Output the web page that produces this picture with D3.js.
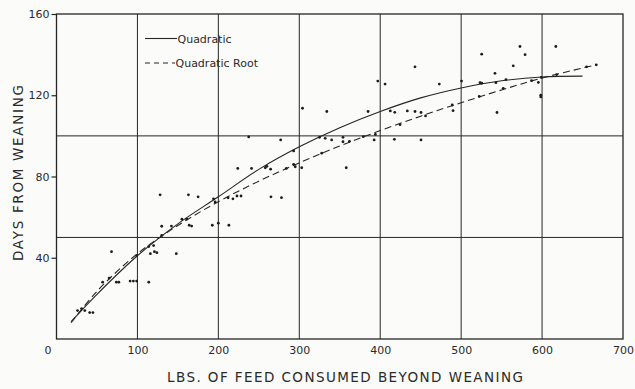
<!DOCTYPE html>
<html>
<head>
<meta charset="utf-8">
<script src="https://cdn.jsdelivr.net/npm/d3@7"></script>
<style>
  html, body { margin: 0; padding: 0; background: #fbfbfa; }
  svg { display: block; }
  text { font-family: "DejaVu Sans", sans-serif; fill: #2a2a2a; }
</style>
</head>
<body>
<svg id="chart" width="635" height="389"></svg>
<script>
// Observed animals: feed consumed (lbs) vs. days from weaning
const feedLbs = [26, 31, 35, 41, 45, 57, 65, 68, 74, 77, 91, 95, 99, 114, 99, 116, 121, 124, 148, 114,
  120, 130, 130, 142, 155, 161, 164, 167, 128, 163, 175, 192.5, 200, 213, 194, 196, 212, 218, 223, 228,
  265, 278, 224, 241, 258, 260, 264.6, 284, 293, 295, 303, 237.5, 277, 293, 304, 325, 332, 340, 354, 354,
  362, 379, 392.5, 394, 417.5, 450.4, 327.7, 358, 334, 385, 397, 406, 412.5, 418, 424.5, 433.5, 443, 443,
  450.4, 456, 473, 489, 490, 500.5, 522.4, 523.3, 525.4, 525.4, 541.8, 543, 544.3, 552, 555.4, 564.4,
  572.7, 579, 587, 595.4, 598.4, 598.4, 599, 617, 618, 655, 667];
const daysFromWeaning = [14, 15, 14, 13, 13, 28, 30, 43, 28, 28, 28.5, 28.5, 28.5, 28, 41, 42, 43, 42.5, 42, 45.5,
  46, 51, 55.5, 55.6, 59, 59, 56, 55.6, 71, 71, 70, 56, 57, 56, 69, 67.5, 69.5, 69, 70.4, 70.4,
  70, 69.6, 84, 84, 84.3, 85, 83.6, 84, 86, 84.8, 84.3, 99.5, 98, 92.6, 113.6, 99.3, 98.8, 98, 99.3, 97.1,
  97.3, 99.6, 98, 100.7, 98.3, 98, 91.5, 84.3, 112, 112, 127, 125.5, 112.3, 111.6, 105.5, 112.3, 134, 112,
  111.5, 109.8, 125.5, 115.2, 112.4, 127, 119.4, 126.2, 125.9, 140.2, 130.8, 126.2, 111.5, 123.4, 127.7, 134.5,
  144, 140, 127.2, 126.3, 120, 119.2, 128.8, 144, 130.2, 134, 135];

// Fitted curves, read along their traced path
const quadFeed = [18, 50, 100, 150, 200, 250, 300, 350, 400, 450, 500, 550, 600, 650];
const quadDays = [8.5, 22, 41, 56.7, 70, 83.5, 94.6, 104, 112, 118.7, 123.6, 127.1, 129, 129.4];
const rootFeed = [18, 50, 100, 150, 200, 250, 300, 350, 400, 450, 500, 550, 600, 667];
const rootDays = [8, 23.5, 42, 55.9, 67.6, 77.7, 86.7, 95, 102.6, 109.7, 116.3, 122.6, 128.5, 135];

// Axis ticks and grid positions
const xTicks = [0, 100, 200, 300, 400, 500, 600, 700];
const xGrid = [100, 200, 300, 400, 500, 600];
const yTicks = [40, 80, 120, 160];
const yGrid = [50, 100];

const legendLabels = ["Quadratic", "Quadratic Root"];

const ink = "#262626";
const svg = d3.select("#chart");

const x = d3.scaleLinear().domain([0, 700]).range([56.5, 623]);
const y = d3.scaleLinear().domain([0, 160]).range([339, 14]);

// Grid lines
const grid = svg.append("g").attr("stroke", ink).attr("stroke-width", 1);
grid.selectAll(".vg").data(xGrid).join("line")
  .attr("x1", d => x(d)).attr("x2", d => x(d))
  .attr("y1", y(0)).attr("y2", y(160));
grid.selectAll(".hg").data(yGrid).join("line")
  .attr("x1", x(0)).attr("x2", x(700))
  .attr("y1", d => y(d)).attr("y2", d => y(d));

// Frame
svg.append("rect")
  .attr("x", x(0)).attr("y", y(160))
  .attr("width", x(700) - x(0)).attr("height", y(0) - y(160))
  .attr("fill", "none").attr("stroke", ink).attr("stroke-width", 1.3);

// Left axis: outward ticks with labels
const yAxis = d3.axisLeft(y).tickValues(yTicks).tickSize(5).tickPadding(2).tickFormat(d3.format("d"));
const gy = svg.append("g").attr("transform", `translate(${x(0)},0)`).call(yAxis);
gy.select(".domain").remove();
gy.selectAll(".tick line").attr("stroke", ink).attr("stroke-width", 1.2);
gy.selectAll(".tick text").attr("font-size", 11).attr("font-family", "DejaVu Sans").attr("fill", ink);

// Bottom axis: labels only
const xAxis = d3.axisBottom(x).tickValues(xTicks).tickSize(0).tickPadding(7).tickFormat(d3.format("d"));
const gx = svg.append("g").attr("transform", `translate(0,${y(0)})`).call(xAxis);
gx.select(".domain").remove();
gx.selectAll(".tick text").attr("font-size", 11).attr("font-family", "DejaVu Sans").attr("fill", ink)
  .attr("dx", d => d === 0 ? -9 : 0);

// Axis titles
svg.append("text")
  .attr("x", 345).attr("y", 382)
  .attr("text-anchor", "middle")
  .attr("font-size", 13.5)
  .attr("textLength", 356).attr("lengthAdjust", "spacing")
  .text("LBS. OF FEED CONSUMED BEYOND WEANING");

svg.append("text")
  .attr("transform", "translate(23,173) rotate(-90)")
  .attr("text-anchor", "middle")
  .attr("font-size", 13.5)
  .attr("textLength", 176).attr("lengthAdjust", "spacing")
  .text("DAYS FROM WEANING");

// Fitted curves
const line = d3.line().x(d => x(d[0])).y(d => y(d[1])).curve(d3.curveCatmullRom.alpha(0.5));
svg.append("path")
  .datum(d3.zip(quadFeed, quadDays))
  .attr("d", line)
  .attr("fill", "none").attr("stroke", ink).attr("stroke-width", 1.1);
svg.append("path")
  .datum(d3.zip(rootFeed, rootDays))
  .attr("d", line)
  .attr("fill", "none").attr("stroke", ink).attr("stroke-width", 1.1)
  .attr("stroke-dasharray", "7,4");

// Observations
svg.append("g").attr("fill", "#1c1c1c")
  .selectAll("circle").data(d3.zip(feedLbs, daysFromWeaning)).join("circle")
  .attr("cx", d => x(d[0])).attr("cy", d => y(d[1])).attr("r", 1.4);

// Legend
const legend = svg.append("g");
legend.append("line").attr("x1", 145).attr("x2", 177).attr("y1", 38.5).attr("y2", 38.5)
  .attr("stroke", ink).attr("stroke-width", 1.1);
legend.append("line").attr("x1", 145).attr("x2", 175).attr("y1", 63).attr("y2", 63)
  .attr("stroke", ink).attr("stroke-width", 1.1).attr("stroke-dasharray", "5,4");
legend.append("text").attr("x", 177.5).attr("y", 42.5).attr("font-size", 11).text(legendLabels[0]);
legend.append("text").attr("x", 175.5).attr("y", 67).attr("font-size", 11).text(legendLabels[1]);
</script>
</body>
</html>
